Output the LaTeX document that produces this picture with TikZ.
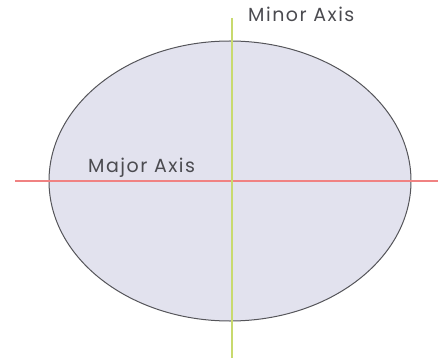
\documentclass[tikz,border=0pt]{standalone}
\usepackage{fontspec}
\setmainfont{Poppins}[LetterSpace=8]

\definecolor{ellfill}{RGB}{226,226,238}
\definecolor{ellline}{RGB}{85,85,90}
\definecolor{majcol}{RGB}{240,130,130}
\definecolor{mincol}{RGB}{200,218,110}
\definecolor{labcol}{RGB}{75,75,80}

\tikzset{
    axislabel/.style={text=labcol, font=\fontsize{19}{21}\selectfont, inner sep=0pt}
}

\begin{document}
\begin{tikzpicture}[x=1pt, y=-1pt]
        \useasboundingbox (0, 0) rectangle (438, 363);

        % Draw the ellipse
        \filldraw[fill=ellfill, draw=ellline, line width=1pt] (230, 181) ellipse (181 and 140);

        % Draw the end points of the axes
        \coordinate (majL) at (15, 181);
        \coordinate (majR) at (438, 181);
        \coordinate (minT) at (232, 18);
        \coordinate (minB) at (232, 358);

        % Draw the major and minor axes
        \draw[majcol, line width=1.1pt] (majL) -- (majR);
        \draw[mincol, line width=1.1pt] (minT) -- (minB);

        % Draw the labels
        \node[axislabel, anchor=base west] (minlab) at (248, 22) {Minor Axis};
        \node[axislabel, anchor=base west] (majlab) at (88, 172.5) {Major Axis};
    \end{tikzpicture}
\end{document}
